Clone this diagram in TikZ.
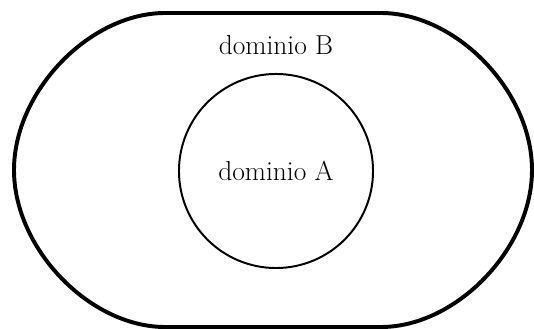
\documentclass[tikz,border=0pt]{standalone}
\usepackage{tikz}

\begin{document}
\begin{tikzpicture}[x=0.025cm,y=0.025cm,
  outer/.style={line width=2.8pt,line join=round},
  inner/.style={circle,draw,line width=1.4pt,minimum size=4.85cm,inner sep=0pt},
  lbl/.style={font=\fontsize{19.5}{22}\selectfont}]
\useasboundingbox (0,0) rectangle (534,329);

% Outer domain (B)
\draw[outer] (165,316) -- (381,316)
  .. controls (456,316) and (532,238) .. (532,159)
  .. controls (532,80) and (456,2) .. (381,2)
  -- (165,2)
  .. controls (90,2) and (14,80) .. (14,159)
  .. controls (14,238) and (90,316) .. (165,316)
  -- cycle;
\node[lbl] (domB) at (276,284) {dominio B};

% Inner domain (A)
\node[inner,lbl] (domA) at (276,158) {dominio A};

\end{tikzpicture}
\end{document}
